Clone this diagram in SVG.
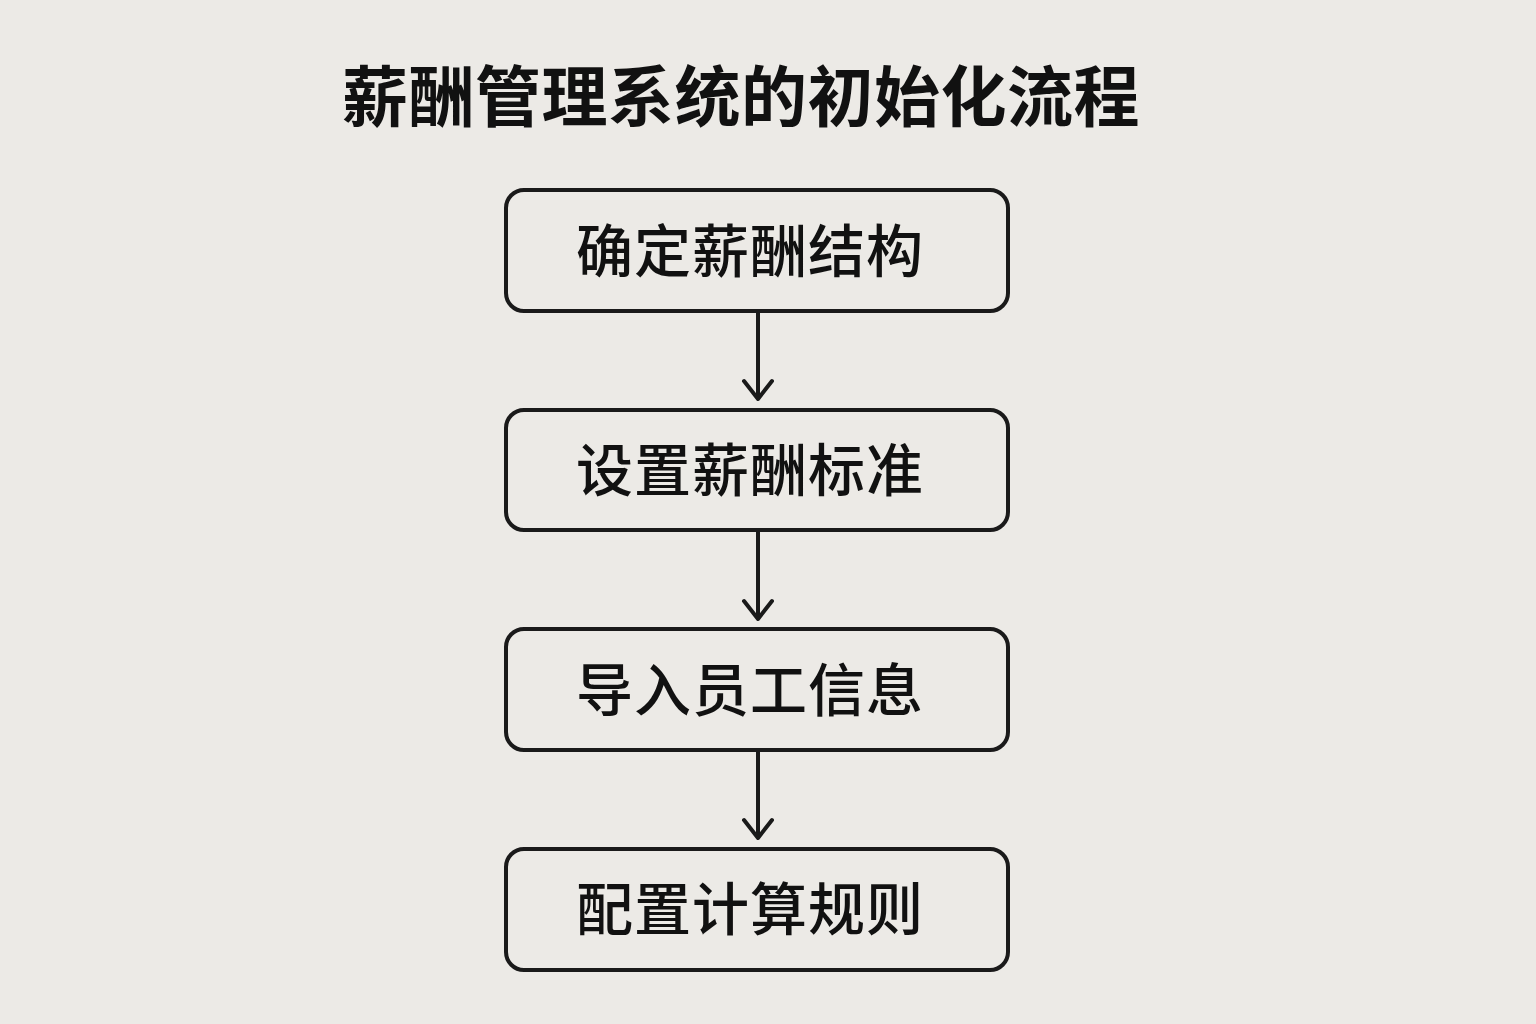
<svg xmlns="http://www.w3.org/2000/svg" width="1536" height="1024" viewBox="0 0 1536 1024">
<defs>
<style>
.box{fill:#ECEAE6;stroke:#1a1a1a;stroke-width:4}
.lbl{font-family:"Noto Sans CJK SC","Noto Sans",sans-serif;font-size:57px;font-weight:500;fill:#111;text-anchor:middle;letter-spacing:1px}
.title{font-family:"Noto Sans CJK SC","Noto Sans",sans-serif;font-size:66px;font-weight:700;fill:#111;text-anchor:middle;letter-spacing:0.5px}
.conn{fill:none;stroke:#1a1a1a;stroke-width:4;stroke-linecap:round;stroke-linejoin:round}
</style>
</defs>
<rect width="1536" height="1024" fill="#ECEAE6"/>
<text class="title" x="741" y="121">薪酬管理系统的初始化流程</text>
<g id="connectors">
<path class="conn" d="M758 311 V399 M744 381 L758 399 L772 381"/>
<path class="conn" d="M758 530 V619 M744 601 L758 619 L772 601"/>
<path class="conn" d="M758 750 V838 M744 820 L758 838 L772 820"/>
</g>
<g id="node1"><rect class="box" x="506" y="190" width="502" height="121" rx="18"/><text class="lbl" x="750" y="272">确定薪酬结构</text></g>
<g id="node2"><rect class="box" x="506" y="410" width="502" height="120" rx="18"/><text class="lbl" x="750" y="491">设置薪酬标准</text></g>
<g id="node3"><rect class="box" x="506" y="629" width="502" height="121" rx="18"/><text class="lbl" x="750" y="711">导入员工信息</text></g>
<g id="node4"><rect class="box" x="506" y="849" width="502" height="121" rx="18"/><text class="lbl" x="750" y="930">配置计算规则</text></g>
</svg>
